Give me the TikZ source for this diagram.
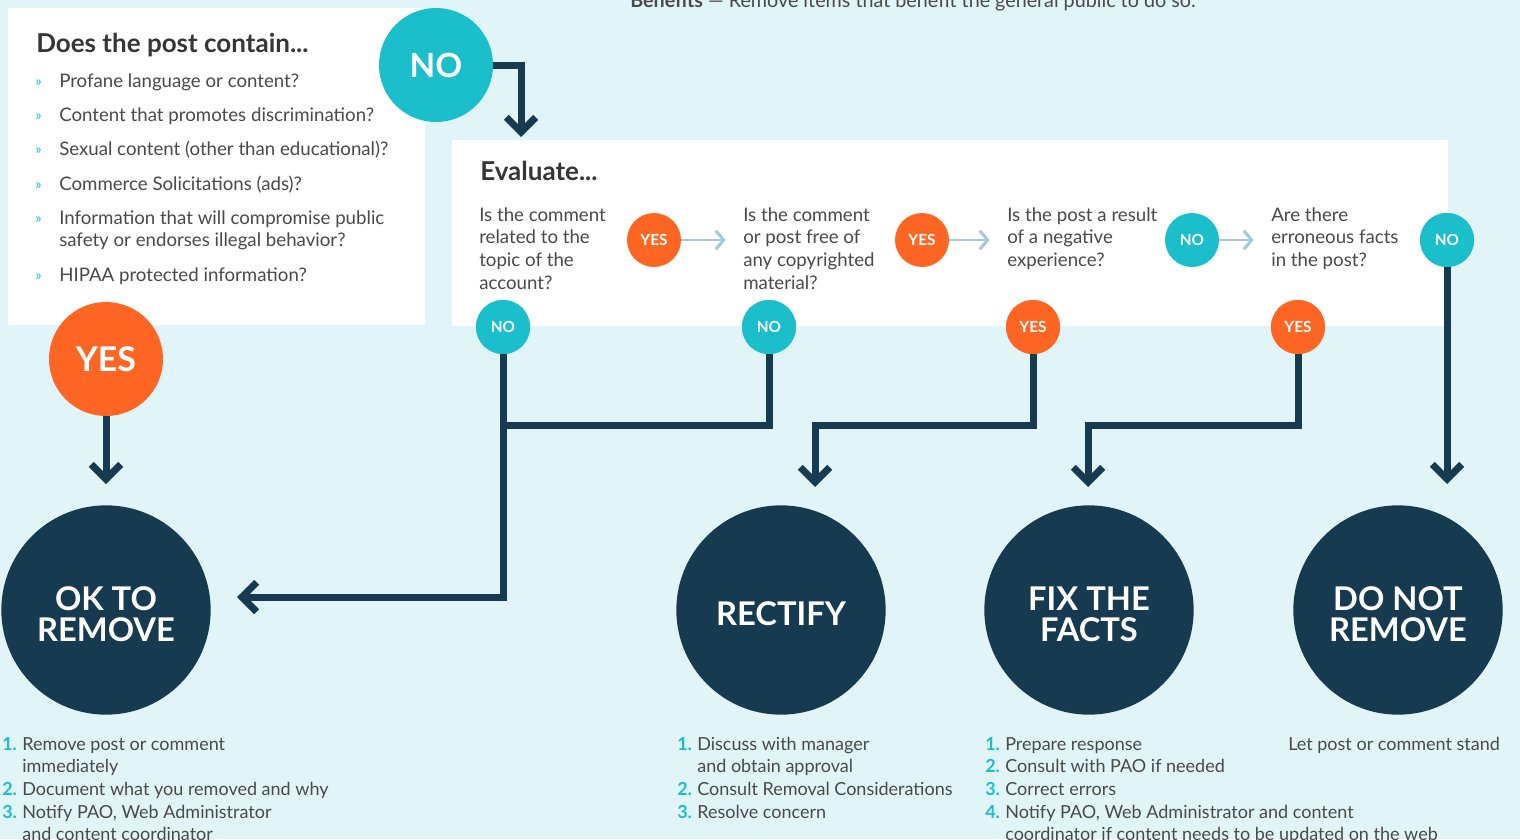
\documentclass[tikz,border=0pt]{standalone}
\usepackage{fontspec}
\setmainfont{Lato}
\usepackage{xcolor}
\usetikzlibrary{arrows.meta, positioning, calc}
\definecolor{bgcol}{HTML}{E1F4F8}
\definecolor{tealcol}{HTML}{1BBFCB}
\definecolor{orangecol}{HTML}{FF6624}
\definecolor{darkcol}{HTML}{163A50}
\definecolor{hintcol}{HTML}{A8CAD6}
\definecolor{textcol}{HTML}{4A4A4A}
\definecolor{headcol}{HTML}{363636}
\newcommand{\stepno}[1]{\textcolor{tealcol}{\bfseries #1}}

\begin{document}
\begin{tikzpicture}[
    x=0.75pt, y=-0.75pt,
    bodyfont/.style={font=\fontsize{14}{17}\selectfont, text=textcol},
    listfont/.style={font=\fontsize{13.5}{17}\selectfont, text=textcol},
    headfont/.style={font=\fontsize{19.5}{22}\selectfont\bfseries, text=headcol},
    bigyes/.style={circle, fill=orangecol, minimum size=85.5pt, inner sep=0pt,
                   text=white, font=\fontsize{25.5}{25}\selectfont\bfseries},
    bigno/.style={bigyes, fill=tealcol, font=\fontsize{25}{25}\selectfont\bfseries},
    yesdot/.style={circle, fill=orangecol, minimum size=40.5pt, inner sep=0pt,
                   text=white, font=\fontsize{11.5}{12}\selectfont\bfseries},
    nodot/.style={yesdot, fill=tealcol},
    outcome/.style={circle, fill=darkcol, minimum size=157pt, inner sep=0pt},
    outcometext/.style={align=center, text=white, inner sep=0pt, yshift=-3pt,
                        font=\fontsize{24.5}{23}\selectfont\bfseries},
    question/.style={bodyfont, anchor=north west, inner sep=0pt, align=left},
    steplist/.style={listfont, anchor=north west, inner sep=0pt},
    flowline/.style={draw=darkcol, line width=5.25pt},
    flowarrow/.style={flowline, -{Straight Barb[length=11pt, width=22pt, sharp]}},
    hintarrow/.style={draw=hintcol, line width=2.2pt,
                      -{Straight Barb[length=6pt, width=14pt, sharp]}},
]

% ============================================================
% BACKGROUND AND PANELS
% ============================================================
\fill[bgcol] (0,0) rectangle (1520,839);
\useasboundingbox (0,0) rectangle (1520,839);
\fill[white] (8,8) rectangle (425,325);
\fill[white] (452,140) rectangle (1448,326);

\node[bodyfont, font=\fontsize{14.8}{17}\selectfont, anchor=base west, inner sep=0pt]
    (benefits) at (630,7)
    {\textbf{Benefits} — Remove items that benefit the general public to do so.};

% ============================================================
% FIRST CHECK
% ============================================================
\node[headfont, anchor=base west, inner sep=0pt] (containhead) at (36,52)
    {Does the post contain...};

\foreach \yy/\txt in {87/{Profane language or content?},
                      121/{Content that promotes discrimination?},
                      155/{Sexual content (other than educational)?},
                      190/{Commerce Solicitations (ads)?},
                      224/{Information that will compromise public},
                      281/{HIPAA protected information?}}{
    \node[anchor=base west, inner sep=0pt, text=tealcol,
          font=\fontsize{11}{12}\selectfont] at (35,\yy-1) {»};
    \node[bodyfont, anchor=base west, inner sep=0pt] at (59,\yy) {\txt};
}
\node[bodyfont, anchor=base west, inner sep=0pt] at (59,246)
    {safety or endorses illegal behavior?};

\node[bigno] (nobig) at (436,65) {NO};
\node[bigyes] (yesbig) at (106,359) {YES};

% ============================================================
% EVALUATE PANEL
% ============================================================
\node[headfont, anchor=base west, inner sep=0pt] (evalhead) at (480,180)
    {Evaluate...};

\node[question] (qtopic) at (479,207)
    {Is the comment\\related to the\\topic of the\\account?};
\node[question] (qcopy) at (743,207)
    {Is the comment\\or post free of\\any copyrighted\\material?};
\node[question] (qneg) at (1007,207)
    {Is the post a result\\of a negative\\experience?};
\node[question] (qfacts) at (1271,207)
    {Are there\\erroneous facts\\in the post?};

\node[yesdot] (yesA) at (654,240) {YES};
\node[yesdot] (yesB) at (922,240) {YES};
\node[nodot]  (noC)  at (1192,240) {NO};
\node[nodot]  (noD)  at (1447,240) {NO};

\node[nodot]  (noA)  at (503,327) {NO};
\node[nodot]  (noB)  at (769,327) {NO};
\node[yesdot] (yesC) at (1033,327) {YES};
\node[yesdot] (yesD) at (1298,327) {YES};

\draw[hintarrow, shorten >=13pt] (yesA.east) -- (yesA -| qcopy.west);
\draw[hintarrow, shorten >=13pt] (yesB.east) -- (yesB -| qneg.west);
\draw[hintarrow, shorten >=13pt] (noC.east) -- (noC -| qfacts.west);

% ============================================================
% OUTCOMES
% ============================================================
\node[outcome] (okremove) at (106,610) {};
\node[outcome] (rectify) at (781,610) {};
\node[outcome] (fixfacts) at (1089,610) {};
\node[outcome] (keep) at (1398,610) {};
\node[outcometext] at (okremove) {OK TO\\REMOVE};
\node[outcometext] at (rectify) {RECTIFY};
\node[outcometext] at (fixfacts) {FIX THE\\FACTS};
\node[outcometext] at (keep) {DO NOT\\REMOVE};

% ============================================================
% CONNECTORS
% ============================================================
\coordinate (evalin) at (521,137);
\coordinate (okin) at (237,597);
\coordinate (joinrow) at (0,425);
\coordinate (rectin) at (815,487);
\coordinate (fixin) at (1088,487);
\coordinate (keepin) at (1447,484);
\coordinate (yesbigin) at (106,484);

\draw[flowarrow] (nobig.east) -| (evalin);
\draw[flowarrow] (yesbig.south) -- (yesbigin);
\draw[flowarrow] (noA.south) |- (okin);
\draw[flowline] (noB.south) |- (noA |- joinrow);
\draw[flowarrow] (yesC.south) -- (yesC |- joinrow) -| (rectin);
\draw[flowarrow] (yesD.south) -- (yesD |- joinrow) -| (fixin);
\draw[flowarrow] (noD.south) -- (keepin);

% redraw bubbles on top of the lines
\node[nodot] at (noA) {NO};
\node[nodot] at (noB) {NO};
\node[yesdot] at (yesC) {YES};
\node[yesdot] at (yesD) {YES};
\node[nodot] at (noD) {NO};

% ============================================================
% STEP LISTS
% ============================================================
\node[steplist] (oksteps) at (2,734) {%
  \begin{tabular}{@{}l@{\hspace{4pt}}l@{}}
    \stepno{1.} & Remove post or comment\\
                & immediately\\
    \stepno{2.} & Document what you removed and why\\
    \stepno{3.} & Notify PAO, Web Administrator\\
                & and content coordinator
  \end{tabular}};

\node[steplist] (rectsteps) at (677,734) {%
  \begin{tabular}{@{}l@{\hspace{4pt}}l@{}}
    \stepno{1.} & Discuss with manager\\
                & and obtain approval\\
    \stepno{2.} & Consult Removal Considerations\\
    \stepno{3.} & Resolve concern
  \end{tabular}};

\node[steplist] (fixsteps) at (985,734) {%
  \begin{tabular}{@{}l@{\hspace{4pt}}l@{}}
    \stepno{1.} & Prepare response\\
    \stepno{2.} & Consult with PAO if needed\\
    \stepno{3.} & Correct errors\\
    \stepno{4.} & Notify PAO, Web Administrator and content\\
                & coordinator if content needs to be updated on the web
  \end{tabular}};

\node[listfont, anchor=base west, inner sep=0pt] (keepstep) at (1288,750)
    {Let post or comment stand};

\end{tikzpicture}
\end{document}
